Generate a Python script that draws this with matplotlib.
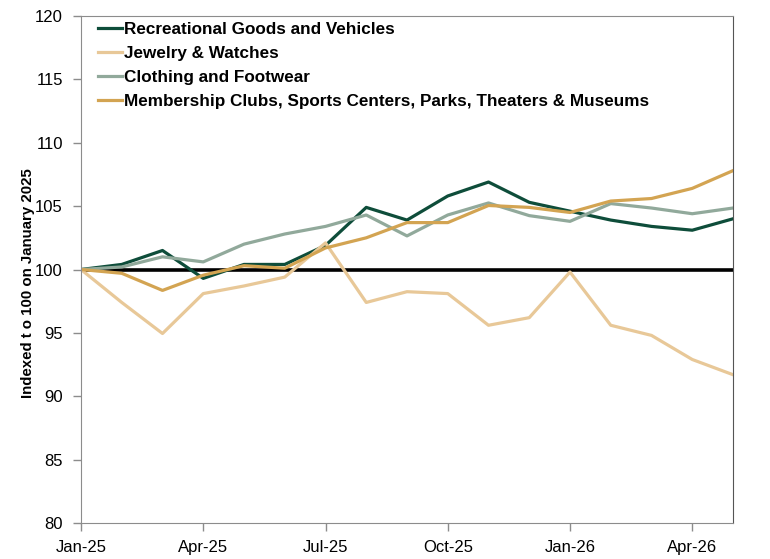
import numpy as np
import matplotlib
matplotlib.use("Agg")
import matplotlib.pyplot as plt

plt.rcParams["font.family"] = ["Liberation Sans", "DejaVu Sans"]

# Monthly data, Jan-25 .. May-26, indexed to 100 on Jan 2025
months = ["Jan-25", "Feb-25", "Mar-25", "Apr-25", "May-25", "Jun-25", "Jul-25",
          "Aug-25", "Sep-25", "Oct-25", "Nov-25", "Dec-25", "Jan-26", "Feb-26",
          "Mar-26", "Apr-26", "May-26"]

recreational = [100.0, 100.4, 101.5, 99.3, 100.4, 100.4, 101.9, 104.9, 103.9,
                105.8, 106.9, 105.3, 104.6, 103.9, 103.4, 103.1, 104.0]
jewelry = [100.0, 97.4, 94.95, 98.1, 98.7, 99.4, 102.1, 97.4, 98.25,
           98.1, 95.6, 96.2, 99.8, 95.6, 94.8, 92.9, 91.7]
clothing = [100.0, 100.2, 101.0, 100.6, 102.0, 102.8, 103.4, 104.3, 102.65,
            104.3, 105.25, 104.25, 103.8, 105.2, 104.85, 104.4, 104.85]
membership = [100.0, 99.7, 98.35, 99.55, 100.3, 100.1, 101.7, 102.5, 103.7,
              103.7, 105.05, 104.9, 104.5, 105.4, 105.6, 106.4, 107.8]

series = [
    ("Recreational Goods and Vehicles", recreational, "#0e4d3a"),
    ("Jewelry & Watches", jewelry, "#e8c898"),
    ("Clothing and Footwear", clothing, "#91a99b"),
    ("Membership Clubs, Sports Centers, Parks, Theaters & Museums", membership, "#d3a452"),
]

x = np.arange(len(months))

fig = plt.figure(figsize=(7.7, 5.59), dpi=100)
ax = fig.add_axes([81 / 770, 1 - 523 / 559, (733 - 81) / 770, (523 - 16) / 559])

ax.axhline(100, color="black", linewidth=2.6, zorder=1)
for label, vals, color in series:
    ax.plot(x, vals, color=color, linewidth=2.3, label=label, zorder=2)

ax.set_xlim(0, len(months) - 1)
ax.set_ylim(80, 120)
ax.set_yticks(np.arange(80, 121, 5))
ax.set_xticks(x[::3])
ax.set_xticklabels(months[::3])

for side in ["left", "bottom", "top"]:
    ax.spines[side].set_color("#8c8c8c")
ax.spines["right"].set_color("#555555")
ax.tick_params(axis="both", labelsize=12, color="#8c8c8c", length=6, width=1)
ax.tick_params(axis="y", pad=7)
ax.tick_params(axis="x", pad=6)

ax.set_ylabel("Indexed t o 100 on January 2025", fontsize=10.8, fontweight="bold")
ax.yaxis.set_label_coords(-0.07, 0.473)

leg = ax.legend(loc="upper left", bbox_to_anchor=(0.026, 0.988), frameon=False,
                prop={"size": 12.3, "weight": "bold"}, handlelength=1.42,
                handletextpad=0.12, labelspacing=0.52, borderaxespad=0,
                borderpad=0)

fig.savefig("out.png", dpi=100)
